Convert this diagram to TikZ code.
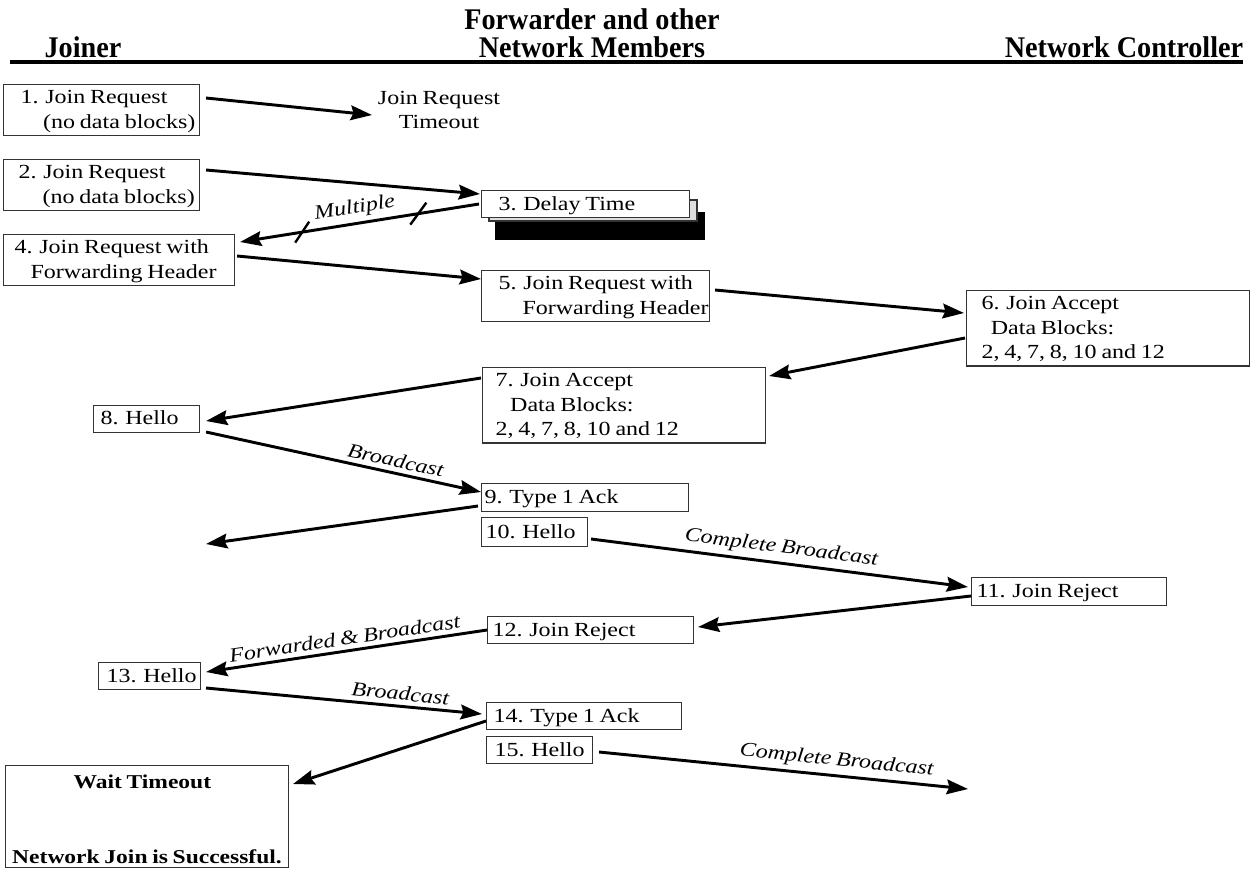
\documentclass[tikz,border=0pt]{standalone}
\usepackage{fontspec}
\setmainfont{Liberation Serif}[FakeStretch=1.2, WordSpace=0.8]
\newfontfamily\headfont{Liberation Serif}[FakeStretch=0.94]
\usetikzlibrary{arrows.meta,calc}
\newcommand\mkbox[7]{%
 \pgfmathsetmacro\bw{#4*0.75}%
 \pgfmathsetmacro\bp{#6*0.75}%
 \pgfmathsetmacro\bh{#5*0.75}%
 \node[box, anchor=north west, minimum width=\bw pt, minimum height=\bh pt] (#1) at (#2,#3)
   {\makebox[\bw pt][l]{\hspace*{\bp pt}\begin{tabular}{@{}l@{}}\rule{0pt}{14.5pt}#7\end{tabular}}};}
\tikzset{
 body/.style={font=\fontsize{15}{18.3}\selectfont},
 box/.style={body, draw=black!80, line width=0.8pt, fill=white, inner sep=0pt},
 head/.style={font=\headfont\bfseries\fontsize{22.5}{21}\selectfont, inner sep=0pt},
 arr/.style={line width=2.2pt, -{Stealth[length=16pt,width=11pt,inset=2pt]}},
 lab/.style={font=\fontsize{15}{18}\selectfont\itshape, sloped, above},
 slash/.style={line width=1.8pt}
}
\begin{document}
\begin{tikzpicture}[x=0.75pt,y=-0.75pt]
\useasboundingbox (0,0) rectangle (1254,869);
% headers
\node[head, anchor=base] (hj) at (83,57) {Joiner};
\node[head, anchor=base] (hf1) at (592,29) {Forwarder and other};
\node[head, anchor=base] (hf2) at (592,57) {Network Members};
\node[head, anchor=base] (hc) at (1124,57) {Network Controller};
\draw[line width=3pt] (10,61.5) -- (1243,61.5);
% boxes
\mkbox{b1}{3}{84}{196}{49}{17}{1. Join Request\\\hspace*{17pt}(no data blocks)}
\node[body, align=center, inner sep=0pt] (tmo) at (439,110) {Join Request\\Timeout};
\mkbox{b2}{3}{159}{196}{49}{15}{2. Join Request\\\hspace*{18pt}(no data blocks)}
% delay time with shadows
\fill[black] (495,212) rectangle (705,240);
\filldraw[fill=black!13, draw=black!80, line width=0.8pt] (489,200) rectangle (697,221);
\mkbox{b3}{481}{190}{208}{27}{17}{3. Delay Time}
\mkbox{b4}{3}{234}{231}{47}{11}{4. Join Request with\\\hspace*{12pt}Forwarding Header}
\mkbox{b5}{481}{270}{228}{50}{17}{5. Join Request with\\\hspace*{18pt}Forwarding Header}
\mkbox{b6}{966}{290}{283}{72}{15}{6. Join Accept\\\hspace*{7pt}Data Blocks:\\2, 4, 7, 8, 10 and 12}
\mkbox{b7}{482}{367}{283}{73}{13}{7. Join Accept\\\hspace*{11pt}Data Blocks:\\2, 4, 7, 8, 10 and 12}
\mkbox{b8}{93}{405}{106}{26}{7}{8. Hello}
\mkbox{b9}{481}{483}{207}{28}{3}{9. Type 1 Ack}
\mkbox{b10}{481}{517}{106}{29}{4}{10. Hello}
\mkbox{b11}{971}{577}{195}{28}{5}{11. Join Reject}
\mkbox{b12}{487}{616}{206}{27}{5}{12. Join Reject}
\mkbox{b13}{98}{662}{102}{27}{8}{13. Hello}
\mkbox{b14}{486}{702}{195}{27}{7}{14. Type 1 Ack}
\mkbox{b15}{486}{736}{106}{27}{8}{15. Hello}
\node[draw=black!80, line width=0.8pt, anchor=north west, minimum width=283*0.75pt, minimum height=102*0.75pt, inner sep=0pt, align=center,
  font=\fontsize{14.7}{18}\selectfont\bfseries] (wait) at (5,765) {\rule{0pt}{14pt}Wait Timeout\hspace*{7pt}\\[38pt]Network Join is Successful.};
\coordinate (e9) at (206,544);
\coordinate (e15) at (968,789);
% connectors
\draw[arr] ([shift={(6,14)}]b1.north east) -- ([shift={(-67,5)}]tmo.center);
\draw[arr] ([shift={(6,11)}]b2.north east) -- ([shift={(-1,4)}]b3.north west);
\draw[arr] ([shift={(-2,14)}]b3.north west) -- coordinate[pos=0.254] (m1) coordinate[pos=0.74] (m2)
   node[lab, pos=0.51] {Multiple} ([shift={(5,8)}]b4.north east);
\draw[slash] ([shift={(-8,11)}]m1) -- ([shift={(8,-11)}]m1);
\draw[slash] ([shift={(-7,10.5)}]m2) -- ([shift={(7,-10.5)}]m2);
\draw[arr] ([shift={(2,22)}]b4.north east) -- ([shift={(0,9)}]b5.north west);
\draw[arr] ([shift={(5,20)}]b5.north east) -- ([shift={(-2,23)}]b6.north west);
\draw[arr] ([shift={(-1,48)}]b6.north west) -- ([shift={(3,9)}]b7.north east);
\draw[arr] ([shift={(-1,11)}]b7.north west) -- ([shift={(6,16)}]b8.north east);
\draw[arr] ([shift={(6,27)}]b8.north east) -- node[lab, pos=0.68] {Broadcast} ([shift={(0,9)}]b9.north west);
\draw[arr] ([shift={(-3,23)}]b9.north west) -- (e9);
\draw[arr] ([shift={(3,22)}]b10.north east) -- node[lab, pos=0.5] {Complete Broadcast} ([shift={(-3,10)}]b11.north west);
\draw[arr] ([shift={(0,19)}]b11.north west) -- ([shift={(4,11)}]b12.north east);
\draw[arr] ([shift={(0,14)}]b12.north west) -- node[lab, pos=0.5] {Forwarded \& Broadcast} ([shift={(5,10)}]b13.north east);
\draw[arr] ([shift={(5,26)}]b13.north east) -- node[lab, pos=0.7] {Broadcast} ([shift={(-4,12)}]b14.north west);
\draw[arr] ([shift={(0,19)}]b14.north west) -- ([shift={(4,19)}]wait.north east);
\draw[arr] ([shift={(6,16)}]b15.north east) -- node[lab, pos=0.64] {Complete Broadcast} (e15);
\end{tikzpicture}
\end{document}
